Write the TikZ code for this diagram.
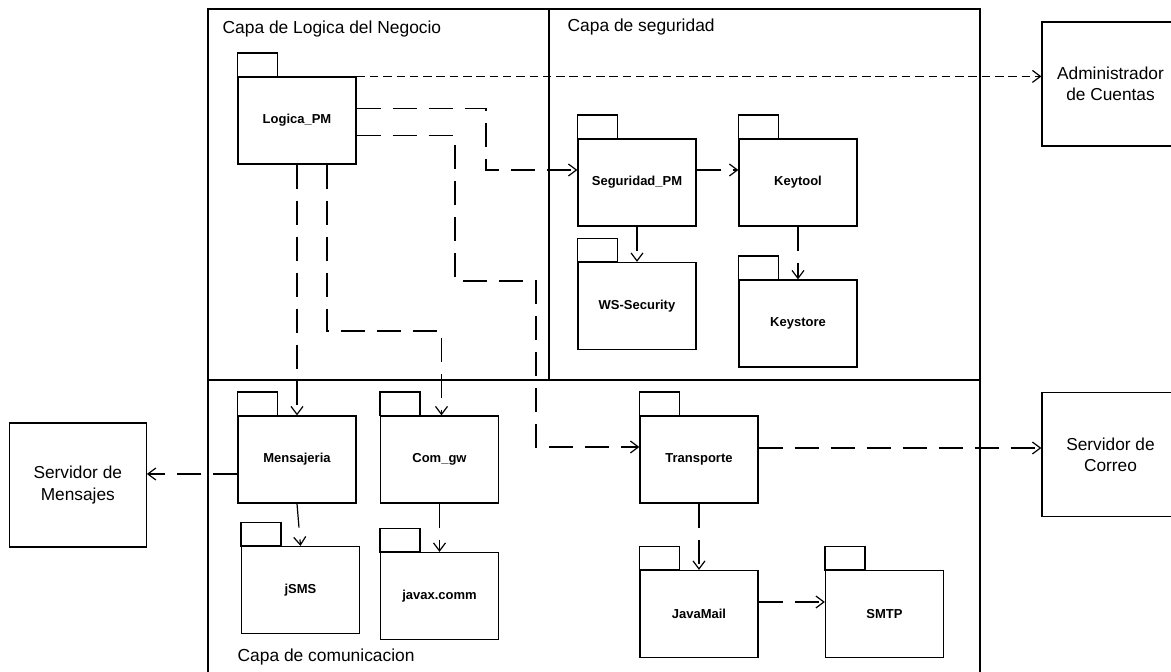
\documentclass[tikz,border=0pt]{standalone}
\usepackage{fontspec}
\setmainfont{Liberation Sans}
\usetikzlibrary{arrows.meta}

% package symbol: body node plus the small tab on its upper left corner
\newcommand\pkgnode[3]{%
  \node[pkg] (#1) at (#2) {#3};
  \draw (#1.north west) rectangle ++(40,-23.5);
}

\begin{document}
\begin{tikzpicture}[x=1pt,y=-1pt,line width=1.2pt,
  pkg/.style={draw,minimum width=118pt,minimum height=87pt,inner sep=0pt,
    font=\fontsize{13}{15}\selectfont\bfseries},
  ext/.style={draw,minimum width=137pt,minimum height=124pt,inner sep=0pt,
    align=center,font=\fontsize{17.3}{21.3}\selectfont},
  layer/.style={anchor=base west,inner sep=0pt,font=\fontsize{17.4}{21}\selectfont},
  tip/.style={-{Straight Barb[length=8pt,width=12pt]}},
  dep/.style={tip,dash pattern=on 24pt off 12pt},
  usedep/.style={tip,dash pattern=on 8.5pt off 4.8pt}]

\useasboundingbox (0,0) rectangle (1171,672);
\clip (0,0) rectangle (1171,672);

% layer frames
\draw (208,9) rectangle (980,690);
\draw (549,9) -- (549,380);
\draw (208,380) -- (980,380);

\node[layer] (tlogica) at (222,33) {Capa de Logica del Negocio};
\node[layer] (tseg) at (567,31) {Capa de seguridad};
\node[layer] (tcom) at (237,661) {Capa de comunicacion};

% packages
\pkgnode{logica}{297,120.5}{Logica\_PM}
\pkgnode{seguridad}{637,182.5}{Seguridad\_PM}
\pkgnode{keytool}{798,182.5}{Keytool}
\pkgnode{wssec}{637,306}{WS-Security}
\pkgnode{keystore}{798,323.5}{Keystore}
\pkgnode{mensajeria}{297,459.5}{Mensajeria}
\pkgnode{comgw}{439.5,459.5}{Com\_gw}
\pkgnode{jsms}{300.5,590}{jSMS}
\pkgnode{javax}{439.5,596}{javax.comm}
\pkgnode{transporte}{699,459.5}{Transporte}
\pkgnode{javamail}{699,614}{JavaMail}
\pkgnode{smtp}{884.5,614}{SMTP}

% external systems
\node[ext] (servmsj) at (77.8,485) {Servidor de\\Mensajes};
\node[ext] (admin) at (1110.5,84) {Administrador\\de Cuentas};
\node[ext] (correo) at (1110.5,454.5) {Servidor de\\Correo};

% bend points of the routed dependencies
\coordinate (s1) at (486,140);
\coordinate (t1) at (455,281);
\coordinate (t2) at (536,281);
\coordinate (c1) at (441.5,331);

% dependencies
\draw[usedep] (logica.north east) -- (logica.north east -| admin.west);
\draw[dep] ([yshift=-32pt]logica.north east) -| (s1) |- ([yshift=12.5pt]seguridad.west);
\draw[dep] ([yshift=-59pt]logica.north east) -| (t1) -- (t2) |- ([yshift=12.5pt]transporte.west);
\draw[dep] (logica.south) -- (mensajeria.north);
\draw[dep] ([xshift=30pt]logica.south) |- (c1) -- ([xshift=2pt]comgw.north);

\draw[dep] ([yshift=12.5pt]seguridad.east) -- ([yshift=12.5pt]keytool.west);
\draw[dep] (seguridad.south) -- (wssec.north);
\draw[dep] (keytool.south) -- (keystore.north);

\draw[dep] ([yshift=-14.5pt]mensajeria.west) -- ([yshift=-14.5pt]mensajeria.west -| servmsj.east);
\draw[dep] (mensajeria.south) -- (jsms.north);
\draw[dep] (comgw.south) -- (javax.north);

\draw[dep] ([yshift=11.5pt]transporte.east) -- ([yshift=11.5pt]transporte.east -| correo.west);
\draw[dep] (transporte.south) -- (javamail.north);
\draw[dep] ([yshift=12pt]javamail.east) -- ([yshift=12pt]javamail.east -| smtp.west);
\end{tikzpicture}
\end{document}
